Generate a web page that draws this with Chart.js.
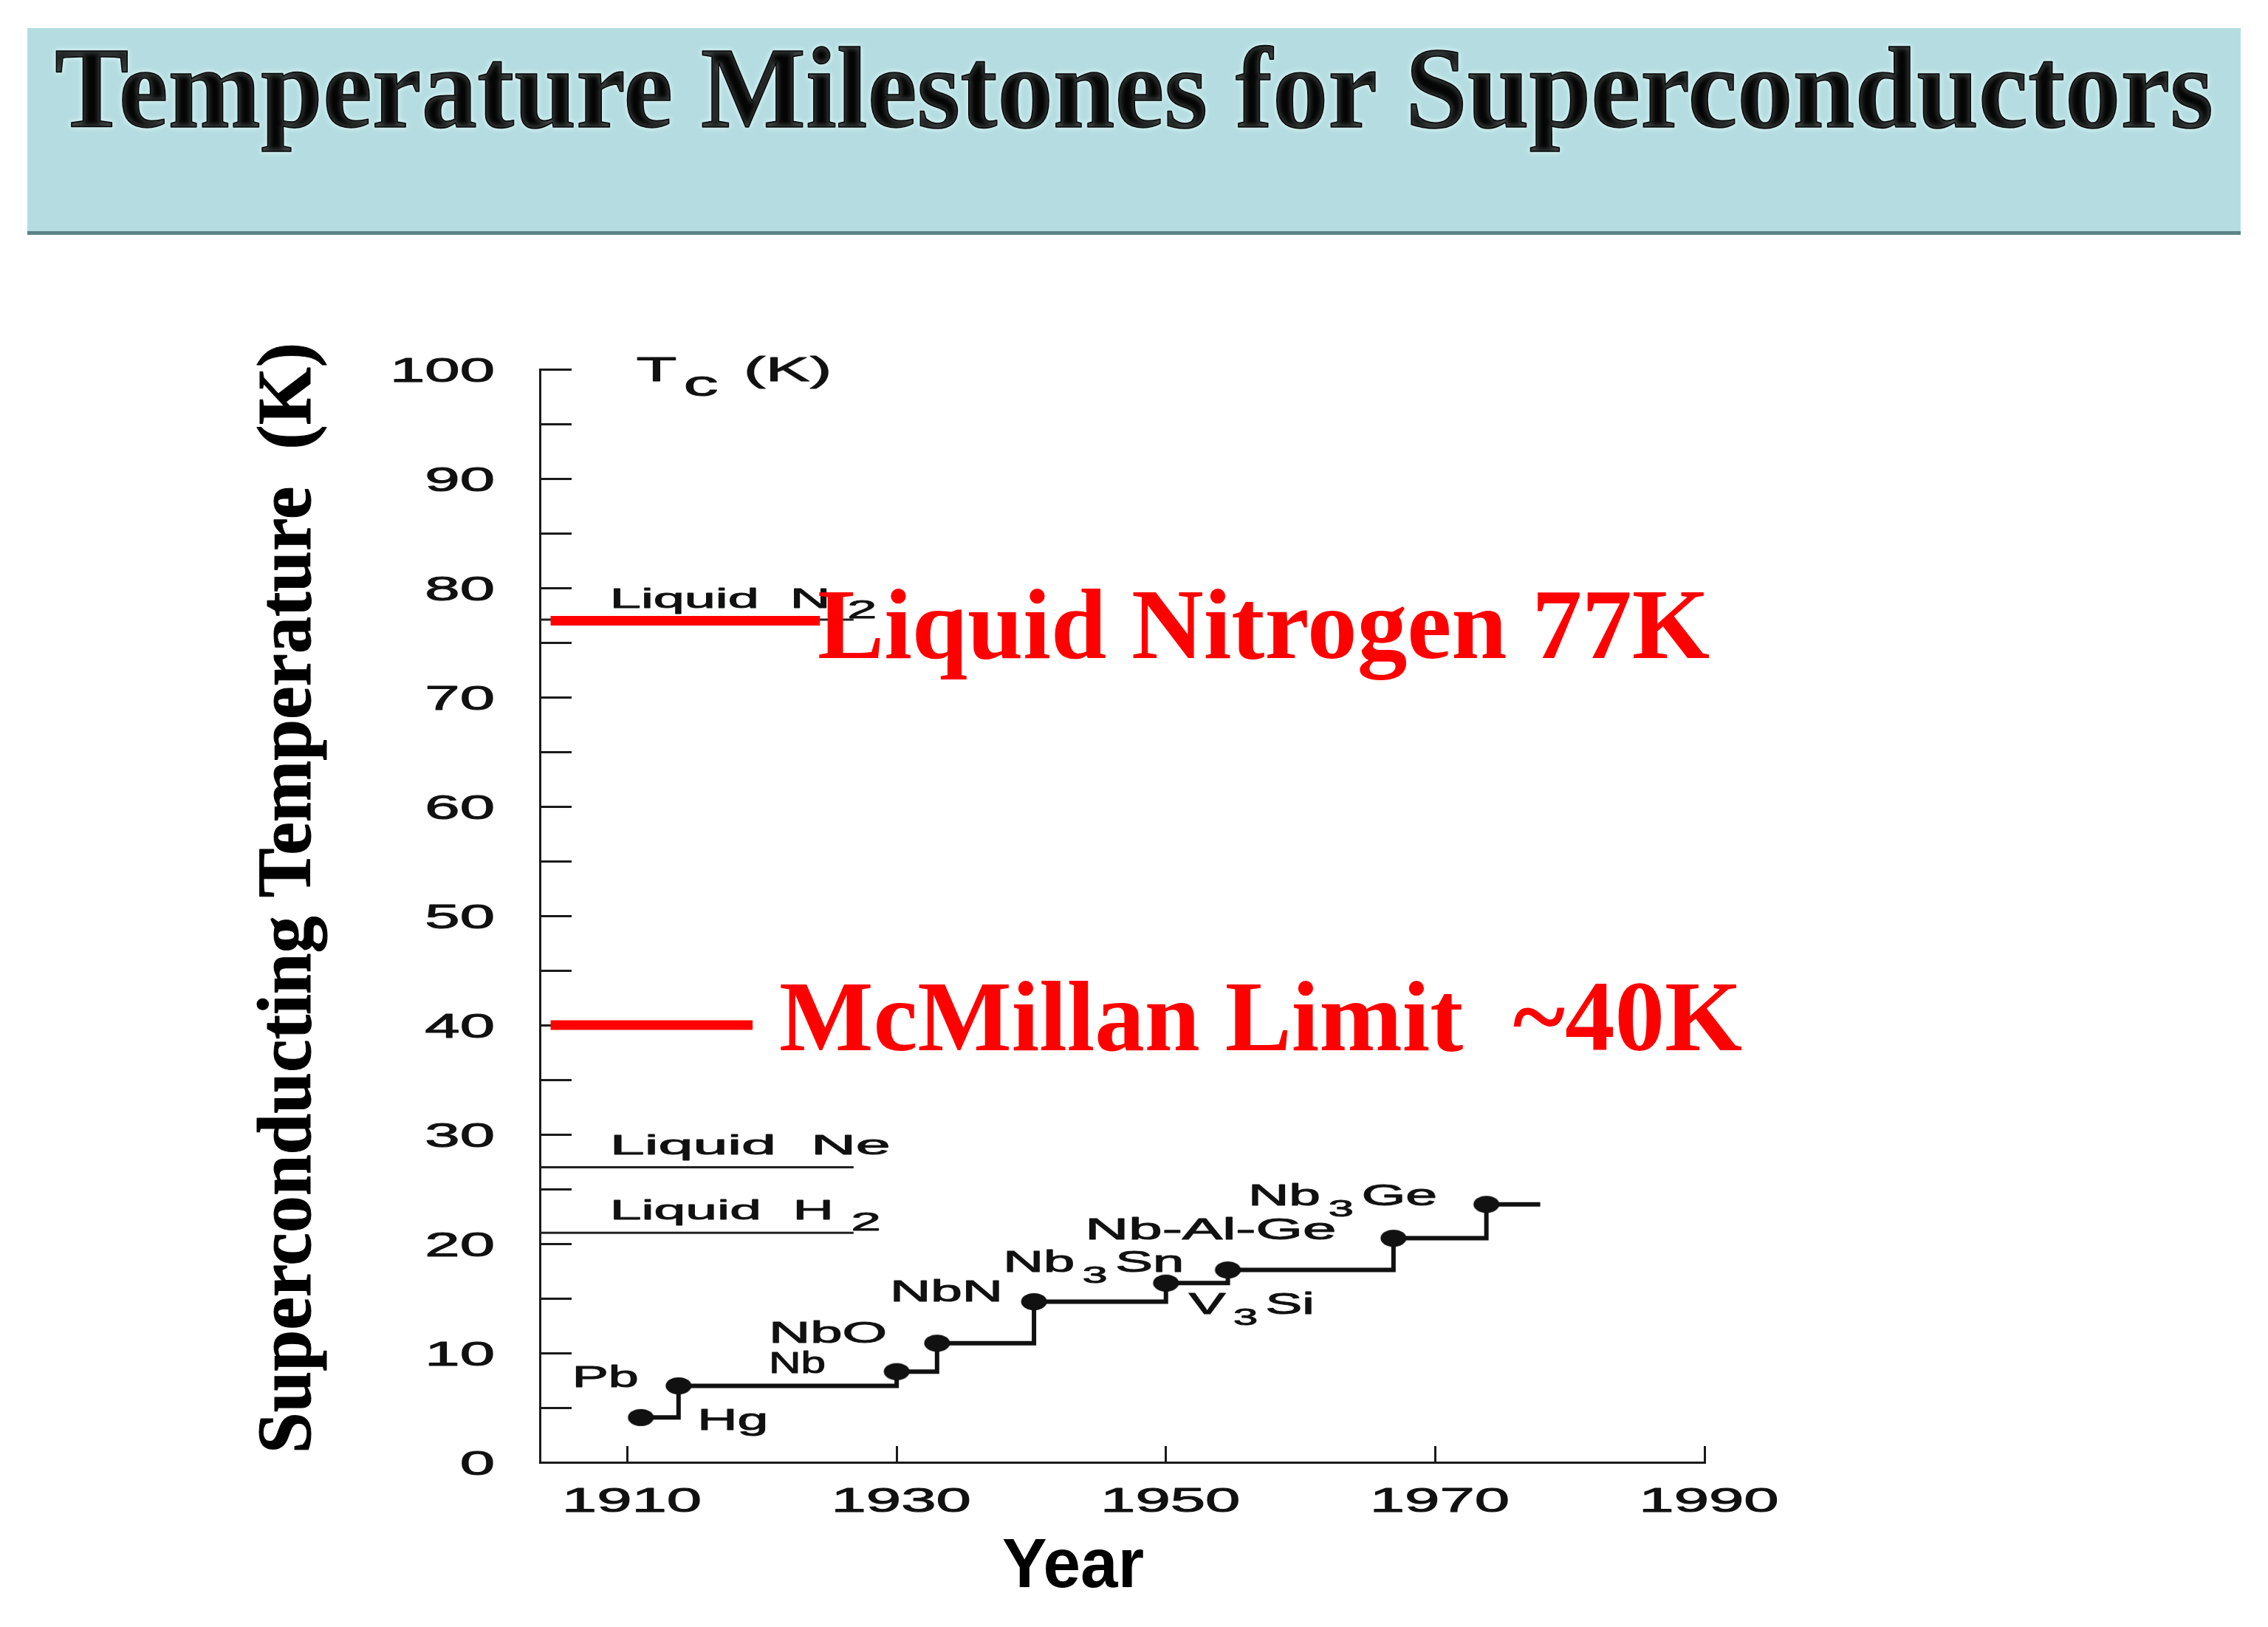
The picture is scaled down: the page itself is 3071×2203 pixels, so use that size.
<!DOCTYPE html>
<html>
<head>
<meta charset="utf-8">
<title>Temperature Milestones for Superconductors</title>
<script src="https://cdn.jsdelivr.net/npm/chart.js@4.4.1/dist/chart.umd.min.js"></script>
<style>
  html, body { margin: 0; padding: 0; background: #fff; }
  body { width: 3071px; height: 2203px; position: relative; overflow: hidden; }
  #banner {
    position: absolute; left: 37px; top: 38px; width: 2997px; height: 275px;
    background: #b5dde1; border-bottom: 5px solid #5b8489;
  }
  #chart { position: absolute; left: 0; top: 0; }
</style>
</head>
<body>
<div id="banner"></div>
<canvas id="chart" width="3071" height="2203"></canvas>
<script>
// milestones: year of discovery and Tc (K)
const materials = ["Hg", "Pb", "Nb", "NbO", "NbN", "V3Si", "Nb3Sn", "Nb-Al-Ge", "Nb3Ge"];
const years = [1911, 1913.8, 1930, 1933, 1940.2, 1950, 1954.6, 1966.9, 1973.8];
const tcValues = [4.1, 7.0, 8.3, 10.9, 14.7, 16.4, 17.6, 20.5, 23.6];
const lineEndYear = 1977.8;

// coolant boiling points drawn as thin lines
const coolants = ["Liquid N2", "Liquid Ne", "Liquid H2"];
const coolantTemps = [77.1, 27.0, 21.0];
const coolantLineEnd = 1926.8;

// red slide annotations
const nitrogenTemp = 77;
const mcmillanLimit = 40;
const redLineStart = 1904.3;
const nitrogenLineEnd = 1924.3;
const mcmillanLineEnd = 1919.3;

const yearTicks = [1910, 1930, 1950, 1970, 1990];
const xMin = 1903.5, xMax = 1990;
const yMin = 0, yMax = 100, yStep = 5;

// where the small figure labels sit: [year, K, width px]
const labelAt = {
  "Hg": [1915.2, 3.0, 96],
  "Pb": [1905.9, 6.9, 90],
  "Nb": [1920.5, 8.2, 77],
  "NbO": [1920.5, 10.95, 160],
  "NbN": [1929.5, 14.7, 153],
  "V3Si": [1951.7, 13.6, 170],
  "Nb3Sn": [1937.9, 17.4, 245],
  "Nb-Al-Ge": [1944.0, 20.4, 340],
  "Nb3Ge": [1956.1, 23.5, 256]
};
const coolantLabelAt = [[1908.7, 78.2, 384], [1908.7, 28.2, 380], [1908.7, 22.2, 390]];

const SANS = '"Liberation Sans", Arial, Helvetica, sans-serif';
const SERIF = '"Liberation Serif", "Times New Roman", serif';

function splitRuns(text, autoDigits) {
  const runs = [];
  for (let i = 0; i < text.length; i++) {
    let ch = text[i], sub = false;
    if (ch === "_") { ch = text[++i]; sub = true; }
    else if (autoDigits && /\d/.test(ch)) sub = true;
    const last = runs[runs.length - 1];
    if (last && last.sub === sub) last.t += ch;
    else runs.push({ t: ch, sub });
  }
  return runs;
}

// draws text (with optional subscripts), squeezed or stretched horizontally
function drawText(ctx, text, x, y, o) {
  const runs = splitRuns(text, o.autoSub);
  const fam = o.family || SANS;
  const wt = o.weight || "normal";
  const mainFont = `${wt} ${o.size}px ${fam}`;
  const subFont = `${wt} ${o.size * (o.subScale || 0.8)}px ${fam}`;
  const gap = o.size * (o.subGap != null ? o.subGap : 0.12);
  let total = 0;
  runs.forEach((r) => {
    ctx.font = r.sub ? subFont : mainFont;
    r.w = ctx.measureText(r.t).width;
    r.pad = r.sub ? gap : 0;
    total += r.w + 2 * r.pad;
  });
  const sx = o.width ? o.width / total : (o.stretch || 1);
  let cx = 0;
  if (o.align === "center") cx = -total / 2;
  else if (o.align === "right") cx = -total;
  ctx.save();
  ctx.translate(x, y);
  if (o.rotate) ctx.rotate(o.rotate);
  ctx.scale(sx, 1);
  ctx.fillStyle = o.color || "#111";
  ctx.strokeStyle = o.color || "#111";
  ctx.lineWidth = o.heavy || 0;
  ctx.lineJoin = "round";
  ctx.textAlign = "left";
  ctx.textBaseline = "alphabetic";
  if (o.glow) { ctx.shadowColor = o.glow; ctx.shadowBlur = 7; }
  runs.forEach((r) => {
    ctx.font = r.sub ? subFont : mainFont;
    cx += r.pad;
    const ty = r.sub ? o.size * (o.subDrop || 0.37) : 0;
    ctx.fillText(r.t, cx, ty);
    if (o.heavy) ctx.strokeText(r.t, cx, ty);
    cx += r.w + r.pad;
  });
  ctx.restore();
}

const dotImg = (() => {
  const c = document.createElement("canvas");
  c.width = 38; c.height = 25;
  const g = c.getContext("2d");
  g.fillStyle = "#111";
  g.beginPath();
  g.ellipse(19, 12.5, 17.5, 11.5, 0, 0, Math.PI * 2);
  g.fill();
  return c;
})();

const stepData = years.map((x, i) => ({ x, y: tcValues[i] }));
stepData.push({ x: lineEndYear, y: tcValues[tcValues.length - 1] });

const datasets = [
  {
    label: "Liquid Nitrogen 77K",
    data: [{ x: redLineStart, y: nitrogenTemp }, { x: nitrogenLineEnd, y: nitrogenTemp }],
    borderColor: "#ff0000", borderWidth: 13, pointRadius: 0
  },
  {
    label: "McMillan Limit",
    data: [{ x: redLineStart, y: mcmillanLimit }, { x: mcmillanLineEnd, y: mcmillanLimit }],
    borderColor: "#ff0000", borderWidth: 13, pointRadius: 0
  },
  {
    label: "Tc",
    data: stepData,
    stepped: true,
    borderColor: "#111",
    borderWidth: 6,
    pointStyle: dotImg,
    pointRadius: (c) => (c.dataIndex < years.length ? 10 : 0)
  }
];
coolants.forEach((name, i) => {
  datasets.push({
    label: name,
    data: [{ x: xMin, y: coolantTemps[i] }, { x: coolantLineEnd, y: coolantTemps[i] }],
    borderColor: "#222", borderWidth: 3, pointRadius: 0
  });
});

const textPlugin = {
  id: "figureText",
  afterDraw(chart) {
    const ctx = chart.ctx;
    const xs = chart.scales.x, ys = chart.scales.y;

    drawText(ctx, "Temperature Milestones for Superconductors", 74, 172, {
      size: 157, family: SERIF, weight: "bold", width: 2923, color: "#050505",
      glow: "rgba(235,255,255,0.95)", heavy: 1.5
    });

    // tick labels
    ys.ticks.forEach((t) => {
      if (t.value % 10 !== 0) return;
      drawText(ctx, String(t.value), ys.right - 61, ys.getPixelForValue(t.value) + 16.5, {
        size: 46, stretch: 1.85, align: "right", heavy: 1
      });
    });
    xs.ticks.forEach((t) => {
      drawText(ctx, String(t.value), xs.getPixelForValue(t.value) + 6, xs.top + 67, {
        size: 46, stretch: 1.85, align: "center", heavy: 1
      });
    });

    // axis titles
    drawText(ctx, "Superconducting Temperature  (K)", 420, 1968, {
      size: 104, family: SERIF, weight: "bold", width: 1504, rotate: -Math.PI / 2, color: "#000", heavy: 1
    });
    drawText(ctx, "Year", 1357, 2149, { size: 95, weight: "bold", width: 192, color: "#000" });

    drawText(ctx, "T_c (K)", xs.getPixelForValue(1910.66), ys.getPixelForValue(98.9), {
      size: 46, width: 265, subScale: 1.05, subDrop: 0.43, subGap: 0.1, heavy: 0.9
    });

    coolants.forEach((name, i) => {
      const [yr, k, w] = coolantLabelAt[i];
      drawText(ctx, name.replace(" ", "  "), xs.getPixelForValue(yr), ys.getPixelForValue(k), {
        size: 37, width: w, autoSub: true, subScale: 0.95, subDrop: 0.4, subGap: 0.3, heavy: 0.9
      });
    });

    materials.forEach((name) => {
      const [yr, k, w] = labelAt[name];
      drawText(ctx, name, xs.getPixelForValue(yr), ys.getPixelForValue(k), {
        size: 40, width: w, autoSub: true, subScale: 0.8, subDrop: 0.37, subGap: 0.14, heavy: 1
      });
    });

    // red slide annotations
    drawText(ctx, "Liquid Nitrogen 77K", 1107, 891, {
      size: 136, family: SERIF, weight: "bold", width: 1208, color: "#ff0000"
    });
    drawText(ctx, "McMillan Limit  ~40K", 1055, 1422, {
      size: 136, family: SERIF, weight: "bold", width: 1304, color: "#ff0000"
    });
  }
};

new Chart(document.getElementById("chart"), {
  type: "line",
  data: { datasets },
  options: {
    responsive: false,
    devicePixelRatio: 1,
    animation: false,
    events: [],
    layout: { padding: { top: 500, left: 0, right: 763, bottom: 0 } },
    plugins: { legend: { display: false }, tooltip: { enabled: false } },
    scales: {
      x: {
        type: "linear",
        min: xMin,
        max: xMax,
        afterBuildTicks: (s) => { s.ticks = yearTicks.map((v) => ({ value: v })); },
        afterFit: (s) => { s.height = 223; },
        ticks: { display: false },
        grid: { display: true, drawOnChartArea: false, drawTicks: true, tickLength: -22, tickWidth: 3, tickColor: "#1a1a1a" },
        border: { display: true, color: "#1a1a1a", width: 3 }
      },
      y: {
        min: yMin,
        max: yMax,
        ticks: { display: false, stepSize: yStep },
        afterFit: (s) => { s.width = 731; },
        grid: { display: true, drawOnChartArea: false, drawTicks: true, tickLength: -43, tickWidth: 3, tickColor: "#1a1a1a" },
        border: { display: true, color: "#1a1a1a", width: 3 }
      }
    }
  },
  plugins: [textPlugin]
});
</script>
</body>
</html>
